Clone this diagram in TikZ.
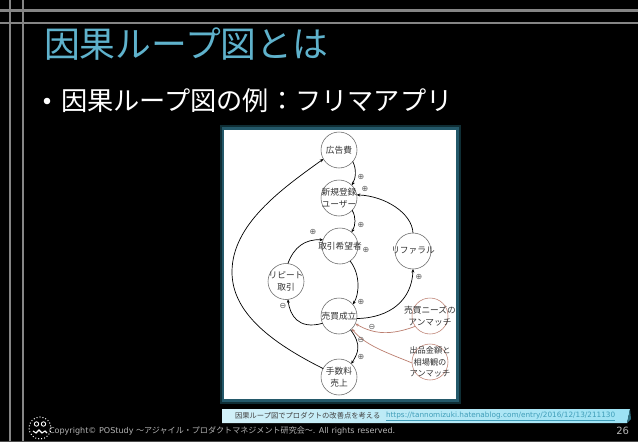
\documentclass[tikz,border=0pt]{standalone}
\usepackage{fontspec}
\setmainfont{Noto Sans CJK JP}
\newfontfamily\dv{DejaVu Sans}
\usetikzlibrary{arrows.meta}
\definecolor{titleblue}{HTML}{5FB2CC}
\definecolor{rule}{HTML}{858585}
\definecolor{redline}{HTML}{BC7F70}
\definecolor{linkblue}{HTML}{3F9DB8}
\definecolor{foot}{HTML}{B4B4B4}
\definecolor{glowa}{HTML}{0F2E35}
\definecolor{glowb}{HTML}{24596A}
\definecolor{capl}{HTML}{D2F0F8}
\definecolor{capr}{HTML}{9CE2F4}
\definecolor{capf}{HTML}{2F6F80}
\tikzset{
  cnode/.style={circle,draw=black!60,line width=.55pt,fill=none,minimum size=36pt,inner sep=0pt,outer sep=0pt},
  lab/.style={font=\fontsize{8.7}{12.5}\selectfont,text=black!80,align=center,inner sep=0pt},
  arr/.style={draw=black,line width=.7pt,-{Stealth[length=3.5pt,width=3pt]}},
  redarr/.style={draw=redline,line width=.7pt,-{Stealth[length=3.5pt,width=3pt]}},
  sign/.style={font=\dv\fontsize{8}{8}\selectfont,text=black!65,inner sep=0pt},
  rulel/.style={draw=rule,line width=2.7pt},
  flat/.style={inner sep=0pt,outer sep=0pt,anchor=west},
}
\begin{document}
\begin{tikzpicture}[x=1pt,y=-1pt]
\useasboundingbox (0,0) rectangle (638,442);
\fill[black] (0,0) rectangle (638,442);
% frame lines
\draw[rulel] (0,10.5) -- (638,10.5);
\draw[rulel] (0,23) -- (638,23);
\draw[rulel] (10,0) -- (10,441);
\draw[rulel] (23,0) -- (23,441);
\draw[draw=black!70,line width=.6pt] (0,441.5) -- (638,441.5);
% title
\node[flat,text=titleblue,font=\fontsize{35.8}{40}\selectfont] (title) at (44,44.5) {因果ループ図とは};
\fill[white] (47,101) circle (3.3);
\node[flat,text=white,font=\fontsize{26.2}{30}\selectfont] (body) at (61,101) {因果ループ図の例：フリマアプリ};
% picture panel
\fill[fill=glowa] (220,125) rectangle (461,404);
\fill[fill=glowb] (222,127) rectangle (459,402);
\fill[fill=white] (224,130) rectangle (456,399);
% nodes
\node[cnode,label={[lab]center:広告費}] (ad) at (339,150) {};
\node[cnode,label={[lab]center:新規登録\\ユーザー}] (new) at (339,198) {};
\node[cnode,label={[lab]center:取引希望者}] (want) at (340,246) {};
\node[cnode,label={[lab]center:リファラル}] (ref) at (413,251) {};
\node[cnode,label={[lab]center:リピート\\取引}] (rep) at (286,281.5) {};
\node[cnode,label={[lab]center:売買成立}] (sale) at (339,316) {};
\node[cnode,label={[lab]center:手数料\\売上}] (fee) at (339,377) {};
\node[cnode,draw=redline,label={[lab]center:売買ニーズの\\アンマッチ}] (need) at (430,316) {};
\node[cnode,draw=redline,label={[lab,font=\fontsize{8.2}{11.7}\selectfont]center:出品金額と\\相場観の\\アンマッチ}] (bid) at (430,362) {};
% connectors
\draw[arr] (ad.-40) .. controls +(4,8) and +(4,-7) .. (new.45);
\draw[arr] (new.-43) .. controls +(4,7) and +(4,-7) .. (want.50);
\draw[arr] (ref.90) .. controls (412,213) and (385,196) .. (new.10);
\draw[arr] (rep.84) .. controls (294,247) and (305,239) .. (want.160);
\draw[arr] (want.-56) .. controls (361,275) and (359,295) .. (sale.40);
\draw[arr] (sale.-8) .. controls (390,318) and (412,300) .. (ref.-90);
\draw[arr] (sale.204) .. controls (298,330) and (290,315) .. (rep.-84);
\draw[arr] (sale.-50) .. controls (362,345) and (358,353) .. (fee.47);
\draw[arr] (fee.152) .. controls (270,342) and (232,312) .. (232,272) .. controls (232,225) and (280,190) .. (ad.210);
\draw[redarr] (need.215) .. controls (392,335) and (375,335) .. (sale.-25);
\draw[redarr] (bid.183) .. controls (385,352) and (365,345) .. (sale.-45);
% signs
\node[sign] (s1) at (361,177) {⊕};
\node[sign] (s2) at (365,189) {⊕};
\node[sign] (s3) at (361,225) {⊕};
\node[sign] (s4) at (313,232) {⊕};
\node[sign] (s5) at (366,250) {⊕};
\node[sign] (s6) at (419,277) {⊕};
\node[sign] (s7) at (361,302) {⊕};
\node[sign] (s8) at (283,306) {⊖};
\node[sign] (s9) at (372,327) {⊖};
\node[sign] (s10) at (361,340) {⊖};
\node[sign] (s11) at (361,357) {⊕};
% caption
\shade[left color=capl,right color=capr] (222,409) -- (630,409) -- (627,423) -- (222,423) -- cycle;
\fill[capf] (630,409) -- (631,419) -- (627,423) -- cycle;
\node[flat,text=black!75,font=\fontsize{7.3}{9}\selectfont] (cap) at (235,416) {因果ループ図でプロダクトの改善点を考える};
\node[flat,text=linkblue,font=\dv\fontsize{7.3}{9}\selectfont] (link) at (386,416) {\underline{https://tannomizuki.hatenablog.com/entry/2016/12/13/211130}};
% footer
\node[flat,text=foot,font=\fontsize{8.07}{10}\selectfont] (copy) at (49,431) {{\dv Copyright© POStudy }～アジャイル・プロダクトマネジメント研究会～{\dv . All rights reserved.}};
\node[flat,text=foot,font=\dv\fontsize{10}{12}\selectfont,anchor=east] (page) at (629,431) {26};
% logo
\draw[white,line width=1pt,dotted] (40,428) circle (11);
\draw[white,line width=.9pt] (36.5,424) circle (2.2) (43.5,424) circle (2.2);
\draw[white,line width=1.1pt] (33,431) -- (36,433) -- (39,430) -- (42,433) -- (45,431) -- (47,433);
\end{tikzpicture}
\end{document}
